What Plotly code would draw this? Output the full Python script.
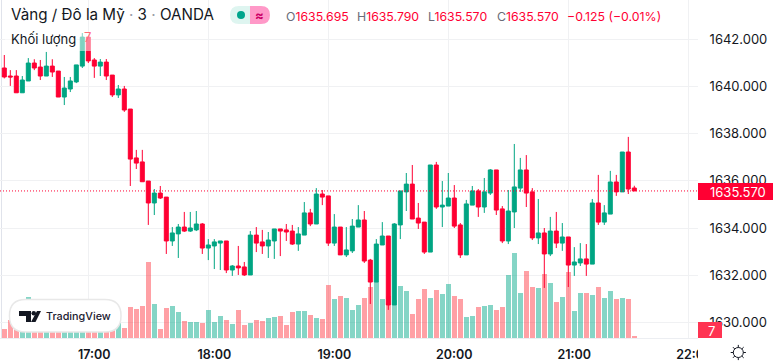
import plotly.graph_objects as go
import pandas as pd
import math

TIMES = pd.date_range("2023-01-03 16:18", periods=106, freq="3min")
OPEN = [1640.78,1640.44,1640.44,1639.73,1640.23,1640.99,1640.82,1640.44,1640.86,1640.65,1639.55,1639.89,1640.19,1640.86,1642.09,1641.12,1640.86,1641.03,1640.48,1639.64,1639.89,1639.04,1636.97,1636.8,1635.99,1635.06,1635.48,1635.31,1633.45,1633.75,1634.04,1633.87,1633.92,1634.17,1633.15,1633.24,1633.36,1633.45,1632.22,1632.39,1632.35,1632.01,1633.7,1633.41,1633.24,1633.45,1633.96,1633.92,1633.87,
1633.32,1633.7,1634.64,1634.17,1635.44,1635.36,1633.36,1634.04,1632.86,1633.03,1634.04,1634.34,1632.64,1631.71,1633.28,1633.66,1630.74,1634.13,1635.53,1635.86,1634.42,1634.25,1632.98,1636.67,1634.89,1634.93,1635.27,1634.13,1632.86,1634.97,1635.57,1634.89,1635.48,1636.46,1634.81,1633.45,1634.68,1635.69,1636.46,1635.53,1633.58,1633.79,1632.9,1633.87,1633.36,1633.62,1632.43,1632.52,1632.69,1632.47,1635.06,1634.25,1634.59,1635.95,1635.53,1637.22,1635.695]
HIGH = [1641.33,1640.69,1640.69,1640.44,1641.2,1641.15,1641.12,1641.46,1641.15,1640.65,1640.4,1640.4,1640.91,1642.26,1642.09,1641.2,1641.16,1641.16,1640.48,1640.06,1640.02,1639.04,1637.31,1637.31,1635.99,1635.65,1635.78,1635.31,1634.04,1634.17,1634.68,1634.68,1634.72,1634.21,1633.53,1633.53,1633.45,1633.45,1632.43,1633.24,1632.56,1633.87,1634.04,1633.92,1633.83,1633.96,1633.96,1634.17,1634.13,1634.04,
1635.1,1634.81,1635.69,1635.61,1635.36,1634.59,1634.04,1634.04,1634.38,1634.97,1634.72,1632.69,1633.53,1634.25,1633.66,1634.21,1635.57,1636.33,1636.67,1635.06,1634.25,1636.67,1636.8,1635.99,1636.33,1635.82,1634.21,1635.19,1635.78,1635.65,1636.12,1636.5,1636.46,1634.93,1635.61,1637.56,1636.97,1637.09,1635.69,1635.23,1634.0,1634.47,1634.68,1634.21,1633.62,1633.19,1633.36,1633.32,1635.23,1636.25,1634.97,1636.42,1636.25,1637.22,1637.86,1635.79]
LOW = [1640.34,1640.02,1639.73,1639.73,1640.23,1640.69,1640.27,1640.44,1640.4,1639.55,1639.21,1639.76,1640.14,1640.78,1640.99,1640.36,1640.44,1640.27,1639.55,1639.51,1638.92,1635.78,1636.5,1635.96,1634.13,1634.55,1635.23,1632.9,1633.24,1632.73,1633.83,1633.83,1633.87,1632.9,1632.64,1632.26,1632.22,1632.09,1631.97,1632.01,1631.97,1632.01,1632.98,1632.9,1632.73,1632.69,1632.81,1633.45,1633.28,1633.03,
1633.7,1634.08,1634.17,1634.97,1633.24,1633.24,1632.86,1632.77,1632.94,1634.04,1632.52,1630.78,1631.71,1633.28,1630.53,1630.74,1633.53,1634.72,1634.38,1633.96,1632.9,1632.98,1634.81,1634.04,1634.93,1634.0,1632.73,1632.86,1634.97,1634.47,1634.64,1635.4,1634.55,1633.36,1633.32,1634.0,1635.53,1634.89,1633.49,1633.32,1631.46,1632.81,1633.15,1633.03,1631.5,1631.97,1632.39,1631.97,1632.47,1634.13,1634.13,1634.59,1635.36,1635.53,1635.44,1635.57]
CLOSE = [1640.4,1640.4,1639.73,1640.27,1640.99,1640.78,1640.44,1640.86,1640.61,1639.55,1639.93,1640.23,1640.91,1642.09,1641.08,1640.86,1641.03,1640.44,1639.64,1639.89,1639.0,1636.92,1636.75,1635.96,1635.06,1635.48,1635.27,1633.45,1633.79,1634.04,1633.87,1634.0,1634.17,1633.15,1633.28,1633.41,1633.45,1632.22,1632.39,1632.31,1632.01,1633.7,1633.36,1633.24,1633.49,1633.96,1633.87,1633.83,1633.32,1633.75,1634.64,1634.17,1635.44,1635.31,1633.36,1634.04,1632.86,1633.07,1634.08,1634.34,1632.6,1631.71,1633.32,1633.66,1630.74,1634.17,1635.57,1635.86,1634.38,1634.21,1632.98,1636.67,1634.89,1634.97,1635.27,1634.08,1632.86,1635.02,1635.57,1634.89,1635.53,1636.46,1634.76,1633.45,1634.72,1635.74,1636.46,1635.48,1633.58,1633.79,1632.9,1633.87,1633.36,1633.62,1632.43,1632.56,1632.69,1632.47,1635.06,1634.25,1634.64,1635.95,1635.53,1637.22,1635.65,1635.57]
VOLUME = [32,63,49,70,144,77,63,70,56,49,60,56,67,63,70,77,46,67,84,53,35,109,102,112,266,119,32,105,112,91,60,56,56,53,98,56,77,63,49,98,46,53,
63,60,70,74,77,46,91,95,95,81,70,67,186,137,147,140,98,116,140,179,196,137,147,133,182,165,84,137,172,140,168,154,189,147,137,74,77,109,112,116,98,109,221,298,158,235,179,175,224,193,126,144,231,95,158,158,151,179,140,165,137,140,137,7]
PRICE_TICKS = [1630,1632,1634,1636,1638,1640,1642]
LAST_PRICE = 1635.570

RED, GREEN = "#ff0033", "#00a583"
VOL_UP, VOL_DOWN = "rgba(0,168,136,0.48)", "rgba(255,44,55,0.45)"
GRID, INK = "#f0f1f3", "#131722"
FONT = "Inter"
W, H = 778, 362
PLOT_W, PLOT_H = 698, 338
px = lambda x: x / W
py = lambda y: 1 - y / H

colors = [VOL_UP if c >= o else VOL_DOWN for o, c in zip(OPEN, CLOSE)]
fig = go.Figure()
fig.add_trace(go.Bar(x=TIMES, y=VOLUME, width=150000, marker=dict(color=colors, line_width=0),
                     xaxis="x", yaxis="y", hoverinfo="skip", showlegend=False))
fig.add_trace(go.Candlestick(x=TIMES, open=OPEN, high=HIGH, low=LOW, close=CLOSE, xaxis="x", yaxis="y2",
                             increasing=dict(line=dict(color=GREEN, width=1), fillcolor=GREEN),
                             decreasing=dict(line=dict(color=RED, width=1), fillcolor=RED),
                             whiskerwidth=0, hoverinfo="skip", showlegend=False))


def rrect(x0, y0, x1, y1, rl, rr=None):
    rr = rl if rr is None else rr
    P = lambda x, y: f"{px(x):.5f} {py(y):.5f}"
    return (f"M{P(x0+rl,y0)} L{P(x1-rr,y0)} Q{P(x1,y0)} {P(x1,y0+rr)} L{P(x1,y1-rr)} Q{P(x1,y1)} {P(x1-rr,y1)} "
            f"L{P(x0+rl,y1)} Q{P(x0,y1)} {P(x0,y1-rl)} L{P(x0,y0+rl)} Q{P(x0,y0)} {P(x0+rl,y0)} Z")


def poly(points):
    return "M" + " L".join(f"{px(x):.5f} {py(y):.5f}" for x, y in points) + " Z"


shapes = []


def add_path(path, fill="rgba(0,0,0,0)", line=None, width=0):
    shapes.append(dict(type="path", xref="paper", yref="paper", path=path, fillcolor=fill, layer="above",
                       line=dict(color=line or "rgba(0,0,0,0)", width=width)))


def add_rect(x0, y0, x1, y1, fill):
    shapes.append(dict(type="rect", xref="paper", yref="paper", x0=px(x0), x1=px(x1), y0=py(y0), y1=py(y1),
                       fillcolor=fill, line_width=0, layer="above"))


# left border
shapes.append(dict(type="line", xref="paper", yref="paper", x0=px(1.5), x1=px(1.5), y0=py(0), y1=py(PLOT_H),
                   line=dict(color="#e0e3eb", width=1), layer="below"))
# last-price dotted line
shapes.append(dict(type="line", xref="paper", yref="y2", x0=0, x1=px(PLOT_W), y0=LAST_PRICE, y1=LAST_PRICE,
                   line=dict(color=RED, width=1, dash="1px,2px"), layer="above"))
# legend veil
add_rect(5, 33, 91, 51, "rgba(255,255,255,0.5)")
# clip right of the time scale and price tags
add_rect(PLOT_W, PLOT_H, W, H, "#ffffff")
add_rect(PLOT_W, 183, 773, 200, RED)
add_rect(PLOT_W, 322, 722, 338, "#ff3352")
# status pill
add_path(rrect(230, 6, 250, 24, 9, 0.01), fill="#def5f0")
add_path(rrect(250, 6, 270, 24, 0.01, 9), fill="#ff99c8")
shapes.append(dict(type="circle", xref="paper", yref="paper", x0=px(237), x1=px(245), y0=py(11), y1=py(19),
                   fillcolor="#00a58c", line_width=0, layer="above"))
# TradingView pill and logo
add_path(rrect(9.5, 299.5, 121, 332, 16), fill="#ffffff", line="#e8e8e8", width=1.5)
add_path(poly([(19, 311), (31, 311), (31, 322), (26, 322), (26, 316), (19, 316)]), fill=INK)
shapes.append(dict(type="circle", xref="paper", yref="paper", x0=px(31.5), x1=px(36), y0=py(311), y1=py(315.5),
                   fillcolor=INK, line_width=0, layer="above"))
add_path(poly([(37, 311), (41, 311), (35.5, 322), (31, 322)]), fill=INK)
# sun icon
cx, cy = 738.3, 352.5
shapes.append(dict(type="circle", xref="paper", yref="paper", x0=px(cx-5), x1=px(cx+5), y0=py(cy-5), y1=py(cy+5),
                   fillcolor="#ffffff", line=dict(color=INK, width=1), layer="above"))
for i in range(8):
    a = i * math.pi / 4
    shapes.append(dict(type="line", xref="paper", yref="paper", x0=px(cx+5*math.cos(a)), x1=px(cx+7.6*math.cos(a)),
                       y0=py(cy+5*math.sin(a)), y1=py(cy+7.6*math.sin(a)), line=dict(color=INK, width=1), layer="above"))


def label(x, y, text, size=13, color=INK, anchor="left", weight=400):
    fig.add_annotation(xref="paper", yref="paper", x=px(x), y=py(y), text=text, showarrow=False, xanchor=anchor,
                       yanchor="middle", borderpad=0, font=dict(family=FONT, size=size, color=color, weight=weight))


SEP = '<span style="color:#9a9da6"> · </span>'
label(10, 15, f"Vàng / Đô la Mỹ{SEP}3{SEP}OANDA", size=15.2)
label(10, 39.5, "Khối lượng", size=13)
label(83, 37, "7", size=13, color="#ff6b78")
label(254, 15, "≈", size=13, color="#cc0066", weight=700)
for x, k, v in [(284.5, "O", "1635.695"), (356, "H", "1635.790"), (427, "L", "1635.570"), (496, "C", "1635.570")]:
    label(x, 16, f'<span style="color:#6a6d78">{k}</span>{v}', size=12.3, color=RED)
label(566, 16, "−0.125 (−0.01%)", size=12.3, color=RED)
label(44.5, 316.5, "TradingView", size=10.8, color="#1c2030", weight=500)
label(709, 191.5, f"{LAST_PRICE:.3f}", size=13, color="#ffffff")
label(711, 331, str(VOLUME[-1]), size=13, color="#ffffff", anchor="center")

fig.update_layout(
    width=W, height=H, margin=dict(l=0, r=0, t=0, b=0, autoexpand=False), paper_bgcolor="#ffffff", plot_bgcolor="#ffffff",
    boxgap=1/3, boxgroupgap=0, bargap=0, barmode="overlay", dragmode=False, showlegend=False,
    shapes=shapes, font=dict(family=FONT, color=INK),
    xaxis=dict(type="date", domain=[0, PLOT_W / W], range=["2023-01-03 16:15:51", "2023-01-03 22:04:51"],
               rangeslider=dict(visible=False), anchor="y", dtick=3600000,
               tick0="2023-01-03 17:00", tickformat="%H:%M", showgrid=True, gridcolor=GRID, gridwidth=1,
               showline=True, linecolor="#eceef2", linewidth=1, ticks="outside", ticklen=5, ticklabelshift=6,
               tickcolor="rgba(0,0,0,0)", tickfont=dict(family=FONT, size=12.5, color=INK, weight=600), zeroline=False),
    yaxis=dict(domain=[1 - PLOT_H / H, 1], range=[0, 1183], showgrid=False, showticklabels=False,
               zeroline=False, ticks="", anchor="x"),
    yaxis2=dict(domain=[1 - PLOT_H / H, 1], overlaying="y", side="right", anchor="x",
                range=[1642 - (PLOT_H - 39.2) / 23.6, 1642 + 39.2 / 23.6],
                tickvals=PRICE_TICKS, tickformat=".3f", showgrid=True, gridcolor=GRID, gridwidth=1,
                ticks="outside", ticklen=8, tickcolor="rgba(0,0,0,0)", zeroline=False,
                tickfont=dict(family=FONT, size=13, color=INK)),
)
fig.write_html("out.html", config=dict(displayModeBar=False, staticPlot=True),
               post_script="document.body.style.margin='0';document.body.style.overflow='hidden';")
